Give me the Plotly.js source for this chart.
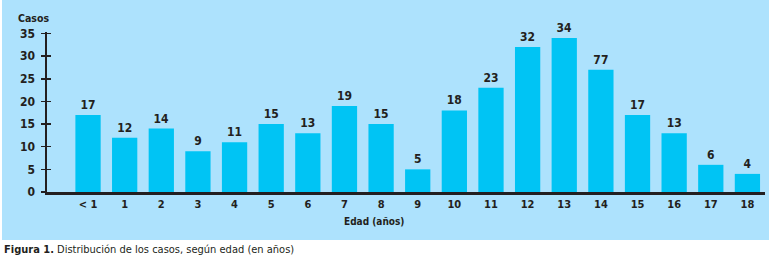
<!DOCTYPE html>
<html>
<head>
<meta charset="utf-8">
<script src="https://cdn.plot.ly/plotly-3.0.1.min.js"></script>
<style>html,body{margin:0;padding:0;background:#fff;}#chart{width:769px;height:280px;}</style>
</head>
<body>
<div id="chart"></div>
<script>
const categories = ["< 1","1","2","3","4","5","6","7","8","9","10","11","12","13","14","15","16","17","18"];
const casos = [17,12,14,9,11,15,13,19,15,5,18,23,32,34,27,17,13,6,4];
const barLabels = ["17","12","14","9","11","15","13","19","15","5","18","23","32","34","77","17","13","6","4"];
const yTicks = [0,5,10,15,20,25,30,35];

const W = 769, H = 280;
const L = 47, R = 4, T = 32, B = 88;
const pw = W - L - R, ph = H - T - B;
const px = x => (x - L) / pw;
const py = y => (H - B - y) / ph;

const ink = "#231F20";
const narrow = "DejaVu Sans Condensed, sans-serif";

const trace = {
  type: "bar",
  x: categories,
  y: casos,
  text: barLabels,
  texttemplate: "%{text}",
  textposition: "outside",
  cliponaxis: false,
  textfont: {family: narrow, size: 12, color: ink, weight: "bold"},
  marker: {color: "#00C4F4", line: {width: 0}},
  width: 0.69,
  hoverinfo: "none"
};
const dummy = {type: "scatter", x: [], y: [], yaxis: "y2", hoverinfo: "none", showlegend: false};

const layout = {
  width: W, height: H,
  margin: {l: L, r: R, t: T, b: B, pad: 0},
  paper_bgcolor: "#ffffff",
  plot_bgcolor: "rgba(0,0,0,0)",
  showlegend: false,
  xaxis: {
    type: "category",
    range: [-1.12, 18.48],
    showline: true, linewidth: 2.5, linecolor: ink,
    ticks: "", showgrid: false, zeroline: false,
    tickfont: {family: narrow, size: 11, color: ink, weight: "bold"},
    fixedrange: true
  },
  yaxis: {
    range: [0, 35.33],
    tickvals: yTicks,
    showline: true, linewidth: 2.5, linecolor: ink,
    ticks: "outside", ticklen: 4, tickwidth: 1.5, tickcolor: ink,
    showgrid: false, zeroline: false,
    tickfont: {family: narrow, size: 12, color: ink, weight: "bold"},
    ticklabelstandoff: 3,
    fixedrange: true
  },
  yaxis2: {
    overlaying: "y", side: "left",
    range: [0, 35.33], tickvals: yTicks,
    ticks: "inside", ticklen: 4, tickwidth: 1.5, tickcolor: ink,
    showticklabels: false, showgrid: false, zeroline: false, showline: false,
    fixedrange: true
  },
  shapes: [{
    type: "rect", xref: "paper", yref: "paper", layer: "below",
    x0: px(2), x1: px(769), y0: py(240), y1: py(0),
    fillcolor: "#ADE2FD", line: {width: 0}
  }],
  annotations: [
    {text: "Casos", xref: "paper", yref: "paper", x: px(33), y: py(18),
     xanchor: "center", yanchor: "middle", showarrow: false,
     font: {family: narrow, size: 10.5, color: ink, weight: "bold"}},
    {text: "Edad (años)", xref: "paper", yref: "paper", x: px(374), y: py(221),
     xanchor: "center", yanchor: "middle", showarrow: false,
     font: {family: narrow, size: 10, color: ink, weight: "bold"}},
    {text: "<b>Figura 1.</b> Distribución de los casos, según edad (en años)",
     xref: "paper", yref: "paper", x: px(2), y: py(249),
     xanchor: "left", yanchor: "middle", showarrow: false,
     font: {family: narrow, size: 11, color: ink}}
  ]
};

Plotly.newPlot("chart", [trace, dummy], layout, {displayModeBar: false, staticPlot: true});
</script>
</body>
</html>
